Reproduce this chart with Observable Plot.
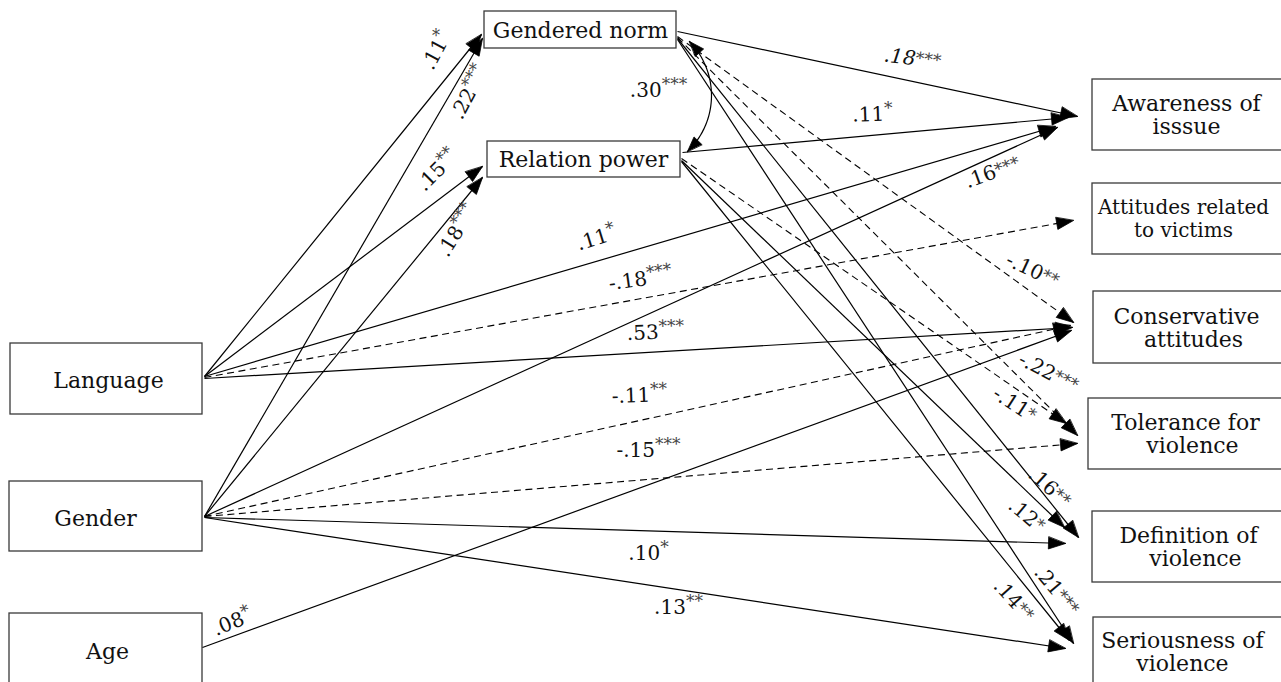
<!DOCTYPE html>
<html>
<head>
<meta charset="utf-8">
<script src="https://cdn.jsdelivr.net/npm/d3@7"></script>
<script src="https://cdn.jsdelivr.net/npm/@observablehq/plot@0.6"></script>
<style>
  html, body { margin: 0; padding: 0; background: #fff; }
  #chart svg { display: block; }
</style>
</head>
<body>
<div id="chart"></div>
<script>
// ---------------- DATA ----------------
const nodeIds = ["GN", "RP", "LANG", "GEND", "AGE", "AWARE", "VICT", "CONS", "TOL", "DEF", "SER"];
const nodeLabels = [
  "Gendered norm", "Relation power", "Language", "Gender", "Age",
  "Awareness of\nisssue", "Attitudes related\nto victims", "Conservative\n\u00a0\u00a0attitudes",
  "Tolerance for\n\u00a0\u00a0violence", "Definition of\n\u00a0\u00a0violence", "Seriousness of\nviolence"
];

// path model: source, target, standardized coefficient, significance stars
const pathFrom  = ["LANG","GEND","LANG","GEND","LANG","LANG","LANG","GEND","GEND","GEND","GEND","GEND","AGE","GN","RP","GN","GN","RP","GN","RP","GN","RP"];
const pathTo    = ["GN","GN","RP","RP","AWARE","VICT","CONS","AWARE","CONS","TOL","DEF","SER","CONS","AWARE","AWARE","CONS","TOL","TOL","DEF","DEF","SER","SER"];
const pathCoef  = [0.11, 0.22, 0.15, 0.18, 0.11, -0.18, 0.53, 0.16, -0.11, -0.15, 0.10, 0.13, 0.08, 0.18, 0.11, -0.10, -0.22, -0.11, 0.16, 0.12, 0.21, 0.14];
const pathStars = ["*","***","**","***","*","***","***","***","**","***","*","**","*","***","*","**","***","*","**","*","***","**"];

// correlation between the two mediators
const corrFrom = "GN", corrTo = "RP", corrCoef = 0.30, corrStars = "***";

// ---------------- LAYOUT (drawing geometry) ----------------
const boxLayout = {
  GN:    {x1: 484,  y1: 11,  x2: 676,  y2: 48,  tx: 580,  ty: 30,  fs: 22},
  RP:    {x1: 487,  y1: 141, x2: 680,  y2: 177, tx: 583,  ty: 159, fs: 22},
  LANG:  {x1: 10,   y1: 343, x2: 202,  y2: 414, tx: 108,  ty: 380, fs: 22},
  GEND:  {x1: 9,    y1: 481, x2: 202,  y2: 551, tx: 95,   ty: 518, fs: 22},
  AGE:   {x1: 9,    y1: 613, x2: 202,  y2: 700, tx: 107,  ty: 651, fs: 22},
  AWARE: {x1: 1092, y1: 79,  x2: 1290, y2: 150, tx: 1186, ty: 115, fs: 22},
  VICT:  {x1: 1092, y1: 183, x2: 1290, y2: 254, tx: 1183, ty: 218, fs: 20},
  CONS:  {x1: 1093, y1: 291, x2: 1290, y2: 363, tx: 1186, ty: 328, fs: 22},
  TOL:   {x1: 1088, y1: 398, x2: 1290, y2: 469, tx: 1185, ty: 434, fs: 22},
  DEF:   {x1: 1092, y1: 511, x2: 1290, y2: 582, tx: 1188, ty: 547, fs: 22},
  SER:   {x1: 1093, y1: 617, x2: 1290, y2: 700, tx: 1182, ty: 652, fs: 22}
};
// per path: start point, arrow tip, label centre, label rotation, italic, star placement
const pathLayout = [
  {s:[204,376], t:[481,34],   l:[436,50],   r:-62},
  {s:[204,516], t:[482,38],   l:[469,92],   r:-62},
  {s:[204,376], t:[482,166],  l:[437,170],  r:-45},
  {s:[204,516], t:[482,177],  l:[457,230],  r:-58},
  {s:[204,376], t:[1055,126], l:[596,238],  r:-17},
  {s:[204,377], t:[1073,220], l:[640,279],  r:-8},
  {s:[204,378], t:[1072,327], l:[655,332],  r:-2},
  {s:[204,516], t:[1057,127], l:[992,172],  r:-20, mid:true},
  {s:[204,516], t:[1070,325], l:[639,395],  r:-2},
  {s:[204,516], t:[1077,443], l:[648,450],  r:0},
  {s:[204,517], t:[1065,543], l:[648,553],  r:0},
  {s:[204,517], t:[1065,648], l:[678,607],  r:0},
  {s:[202,647], t:[1071,330], l:[232,622],  r:-22},
  {s:[677,31],  t:[1077,116], l:[912,58],   r:7, italic:true, mid:true},
  {s:[682,152], t:[1068,117], l:[872,114],  r:-2},
  {s:[677,36],  t:[1073,322], l:[1032,270], r:25, mid:true},
  {s:[677,37],  t:[1077,435], l:[1048,372], r:27, mid:true},
  {s:[681,158], t:[1066,423], l:[1014,404], r:33, mid:true},
  {s:[677,38],  t:[1078,537], l:[1049,487], r:42, mid:true},
  {s:[681,160], t:[1064,527], l:[1026,515], r:40, mid:true},
  {s:[677,39],  t:[1073,643], l:[1056,590], r:50, mid:true},
  {s:[681,161], t:[1069,640], l:[1013,600], r:48, mid:true}
];
const corrLayout = {s:[689,41], t:[687,151], sag:23, l:[658,90]};

// ---------------- BUILD ----------------
const fmt = c => (c < 0 ? "-" : "") + Math.abs(c).toFixed(2).slice(1);

const boxes = nodeIds.map((id, i) => ({id, label: nodeLabels[i], ...boxLayout[id]}));

const paths = pathFrom.map((f, i) => ({
  from: f, to: pathTo[i], coef: pathCoef[i], stars: pathStars[i],
  x1: pathLayout[i].s[0], y1: pathLayout[i].s[1],
  x2: pathLayout[i].t[0], y2: pathLayout[i].t[1],
  lx: pathLayout[i].l[0], ly: pathLayout[i].l[1], rot: pathLayout[i].r,
  italic: !!pathLayout[i].italic, mid: !!pathLayout[i].mid,
  text: fmt(pathCoef[i]) + pathStars[i]
}));

function head(tip, from, id, len = 17, hw = 6) {
  const dx = tip[0] - from[0], dy = tip[1] - from[1], d = Math.hypot(dx, dy);
  const ux = dx / d, uy = dy / d;
  const bx = tip[0] - ux * len, by = tip[1] - uy * len;
  return [
    {id, x: tip[0], y: tip[1]},
    {id, x: bx - uy * hw, y: by + ux * hw},
    {id, x: bx + uy * hw, y: by - ux * hw}
  ];
}

// circular arc for the correlation
function arcPoints(S, E, sag, n = 40) {
  const mx = (S[0] + E[0]) / 2, my = (S[1] + E[1]) / 2;
  const cx0 = E[0] - S[0], cy0 = E[1] - S[1];
  const L = Math.hypot(cx0, cy0);
  let nx = -cy0 / L, ny = cx0 / L;
  if (nx < 0) { nx = -nx; ny = -ny; }
  const R = (sag * sag + (L / 2) * (L / 2)) / (2 * sag);
  const ccx = mx - nx * (R - sag), ccy = my - ny * (R - sag);
  const a0 = Math.atan2(S[1] - ccy, S[0] - ccx);
  const a1 = Math.atan2(E[1] - ccy, E[0] - ccx);
  const pts = [];
  for (let k = 0; k <= n; k++) {
    const a = a0 + (a1 - a0) * k / n;
    pts.push({x: ccx + R * Math.cos(a), y: ccy + R * Math.sin(a)});
  }
  return pts;
}
const arc = arcPoints(corrLayout.s, corrLayout.t, corrLayout.sag);

const heads = [];
paths.forEach((p, i) => heads.push(...head([p.x2, p.y2], [p.x1, p.y1], "p" + i)));
heads.push(...head([arc[0].x, arc[0].y], [arc[2].x, arc[2].y], "c0", 15, 5.5));
heads.push(...head([arc[arc.length-1].x, arc[arc.length-1].y], [arc[arc.length-3].x, arc[arc.length-3].y], "c1", 15, 5.5));

const coefLabels = [
  ...paths.map(p => ({x: p.lx, y: p.ly, rot: p.rot, text: p.text, italic: p.italic, mid: p.mid})),
  {x: corrLayout.l[0], y: corrLayout.l[1], rot: 0, text: fmt(corrCoef) + corrStars, italic: false, mid: false}
];

const FONT = "'DejaVu Serif', 'Liberation Serif', serif";

const chart = Plot.plot({
  width: 1281,
  height: 682,
  margin: 0,
  style: {background: "#fff", fontFamily: FONT, overflow: "hidden"},
  x: {type: "linear", domain: [0, 1281], range: [0, 1281], axis: null},
  y: {type: "linear", domain: [0, 682], range: [0, 682], axis: null},
  marks: [
    Plot.rect(boxes, {x1: "x1", x2: "x2", y1: "y1", y2: "y2", fill: "white", stroke: "#3a3a3a", strokeWidth: 1.3}),
    Plot.link(paths.filter(p => p.coef >= 0), {x1: "x1", y1: "y1", x2: "x2", y2: "y2", stroke: "black", strokeWidth: 1.2}),
    Plot.link(paths.filter(p => p.coef < 0), {x1: "x1", y1: "y1", x2: "x2", y2: "y2", stroke: "black", strokeWidth: 1.1, strokeDasharray: "7,4.5"}),
    Plot.line(arc, {x: "x", y: "y", stroke: "black", strokeWidth: 1.2, curve: "basis"}),
    Plot.line(heads, {x: "x", y: "y", z: "id", fill: "black", stroke: "black", strokeWidth: 0.8, curve: "linear-closed"}),
    Plot.text(boxes.filter(b => b.fs === 22), {x: "tx", y: "ty", text: "label", fontSize: "fs", lineHeight: 1.05, fill: "#111", fontFamily: FONT}),
    Plot.text(boxes.filter(b => b.fs !== 22), {x: "tx", y: "ty", text: "label", fontSize: "fs", lineHeight: 1.15, fill: "#111", fontFamily: FONT}),
    Plot.text(coefLabels.filter(d => !d.italic), {x: "x", y: "y", text: "text", rotate: "rot", fontSize: 20, fill: "#111", fontFamily: FONT, ariaLabel: d => d.mid ? "coef-mid" : "coef-sup"}),
    Plot.text(coefLabels.filter(d => d.italic), {x: "x", y: "y", text: "text", rotate: "rot", fontSize: 20, fontStyle: "italic", fill: "#111", fontFamily: FONT, ariaLabel: d => d.mid ? "coef-mid" : "coef-sup"})
  ]
});

// render significance stars as smaller raised text
chart.querySelectorAll('text').forEach(t => {
  const lab = t.getAttribute("aria-label") || "";
  if (!lab.startsWith("coef")) return;
  const s = t.textContent;
  const m = s.match(/^([-.\d]+)(\**)$/);
  if (!m) return;
  const isMid = lab === "coef-mid";
  while (t.firstChild) t.removeChild(t.firstChild);
  const a = document.createElementNS("http://www.w3.org/2000/svg", "tspan");
  a.textContent = m[1];
  const b = document.createElementNS("http://www.w3.org/2000/svg", "tspan");
  b.textContent = m[2];
  b.setAttribute("font-size", "17");
  b.setAttribute("font-style", "normal");
  b.setAttribute("fill", "#444");
  b.setAttribute("dy", isMid ? "-0.1em" : "-0.4em");
  t.appendChild(a); t.appendChild(b);
});

document.getElementById("chart").appendChild(chart);
</script>
</body>
</html>
